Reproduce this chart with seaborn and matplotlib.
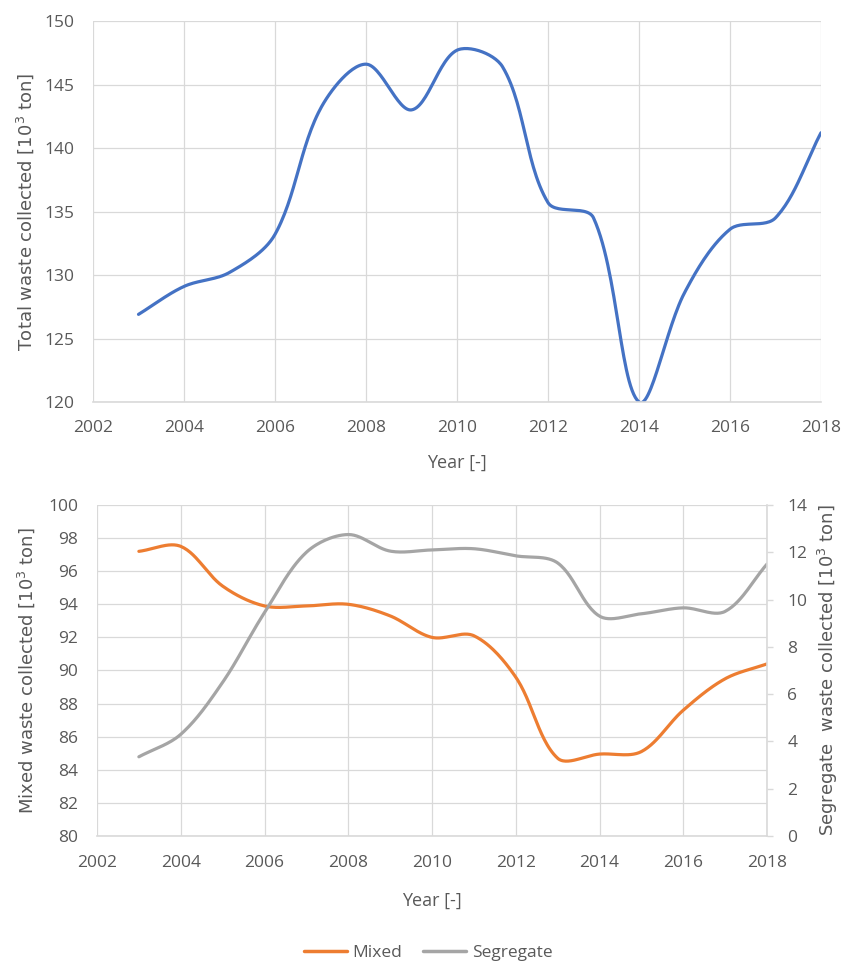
import numpy as np
import pandas as pd
import matplotlib
matplotlib.use("Agg")
import matplotlib.pyplot as plt
import seaborn as sns

YEARS = list(range(2003, 2019))
TOTAL = [126.9, 129.1, 130.2, 133.2, 143.1, 146.6, 143.0, 147.7,
         146.4, 135.7, 134.5, 120.0, 128.6, 133.6, 134.5, 141.2]
MIXED = [97.2, 97.5, 95.1, 93.9, 93.9, 94.0, 93.3, 92.0,
         92.1, 89.6, 84.7, 84.95, 85.1, 87.6, 89.5, 90.4]
SEGREGATE = [3.35, 4.3, 6.5, 9.45, 12.0, 12.75, 12.05, 12.1,
             12.15, 11.85, 11.55, 9.3, 9.4, 9.65, 9.5, 11.5]

BLUE, ORANGE, GREY = "#4472C4", "#ED7D31", "#A5A5A5"
TICK_C, GRID_C = "#595959", "#D9D9D9"
TICK_FONT = "Open Sans"
LABEL_FONT = "DejaVu Sans"


def smooth(ax, x, y, n=30):
    # Excel-like smoothed line, built in screen space with chord-length weighted tangents
    p = ax.transData.transform(np.column_stack([x, y]).astype(float))
    ext = np.vstack([p[0], p, p[-1]])
    t = np.linspace(0, 1, n)[:, None]
    segs = []
    for i in range(len(p) - 1):
        p0, p1, p2, p3 = ext[i], ext[i + 1], ext[i + 2], ext[i + 3]
        d01 = np.linalg.norm(p1 - p0)
        d12 = np.linalg.norm(p2 - p1)
        d23 = np.linalg.norm(p3 - p2)
        w1 = d12 / (d01 + d12) if d01 + d12 > 0 else 0
        w2 = d12 / (d12 + d23) if d12 + d23 > 0 else 0
        c1 = p1 + (p2 - p0) * w1 / 3
        c2 = p2 - (p3 - p1) * w2 / 3
        b = ((1 - t) ** 3) * p1 + 3 * ((1 - t) ** 2) * t * c1 + 3 * (1 - t) * t ** 2 * c2 + t ** 3 * p2
        segs.append(b if i == 0 else b[1:])
    out = ax.transData.inverted().transform(np.vstack(segs))
    return out[:, 0], out[:, 1]


def style_axis(ax, xpad=13):
    ax.set_facecolor("white")
    ax.grid(True, color=GRID_C, linewidth=0.9)
    for s in ["top", "left", "right"]:
        ax.spines[s].set_visible(False)
    ax.spines["bottom"].set_color(GRID_C)
    ax.spines["bottom"].set_linewidth(1.2)
    ax.tick_params(axis="x", length=0, colors=TICK_C, labelsize=12.5, pad=xpad)
    ax.tick_params(axis="y", length=0, colors=TICK_C, labelsize=12.5, pad=13.5)
    for lab in ax.get_xticklabels() + ax.get_yticklabels():
        lab.set_family(TICK_FONT)


sns.set_theme(style="white")
plt.rcParams["font.family"] = [TICK_FONT, "DejaVu Sans"]

fig = plt.figure(figsize=(8.56, 9.63), dpi=100)
W, H = 856, 963
ax1 = fig.add_axes([93 / W, 1 - 402 / H, (821 - 93) / W, (402 - 21) / H])
ax2 = fig.add_axes([97 / W, 1 - 836 / H, (767 - 97) / W, (836 - 505) / H])

# top: total waste
ax1.set_xlim(2002, 2018)
ax1.set_ylim(120, 150)
xs, ys = smooth(ax1, YEARS, TOTAL)
sns.lineplot(x=xs, y=ys, sort=False, estimator=None, color=BLUE, linewidth=2.3, ax=ax1)
ax1.set_xlim(2002, 2018)
ax1.set_ylim(120, 150)
ax1.set_xticks(range(2002, 2019, 2))
ax1.set_yticks(range(120, 151, 5))
style_axis(ax1)
ax1.set_xlabel("Year [-]", fontsize=13, color=TICK_C, labelpad=13)
ax1.set_ylabel("Total waste collected [10$^3$ ton]", fontsize=13, color=TICK_C,
               family=LABEL_FONT, labelpad=6)

# bottom: mixed (left) and segregate (right)
ax2.set_xlim(2002, 2018)
ax2.set_ylim(80, 100)
xm, ym = smooth(ax2, YEARS, MIXED)
sns.lineplot(x=xm, y=ym, sort=False, estimator=None, color=ORANGE, linewidth=2.3, ax=ax2)
ax2.set_xlim(2002, 2018)
ax2.set_ylim(80, 100)
ax2.set_xticks(range(2002, 2019, 2))
ax2.set_yticks(range(80, 101, 2))
style_axis(ax2, xpad=14)
ax2.set_xlabel("Year [-]", fontsize=13, color=TICK_C, labelpad=15)
ax2.set_ylabel("Mixed waste collected [10$^3$ ton]", fontsize=13, color=TICK_C,
               family=LABEL_FONT, labelpad=8)

ax3 = ax2.twinx()
ax3.set_ylim(0, 14)
xg, yg = smooth(ax3, YEARS, SEGREGATE)
sns.lineplot(x=xg, y=yg, sort=False, estimator=None, color=GREY, linewidth=2.3, ax=ax3)
ax3.set_xlim(2002, 2018)
ax3.set_ylim(0, 14)
ax3.set_yticks(range(0, 15, 2))
ax3.grid(False)
for s in ["top", "left", "bottom"]:
    ax3.spines[s].set_visible(False)
ax3.spines["right"].set_color(GRID_C)
ax3.spines["right"].set_linewidth(1.2)
ax3.tick_params(axis="y", length=4.5, width=1.0, color=GRID_C, labelcolor=TICK_C,
                labelsize=12.5, pad=10)
for lab in ax3.get_yticklabels():
    lab.set_family(TICK_FONT)
ax3.set_ylabel("Segregate  waste collected [10$^3$ ton]", fontsize=13, color=TICK_C,
               family=LABEL_FONT, labelpad=6)

handles = [plt.Line2D([], [], color=ORANGE, linewidth=2.5),
           plt.Line2D([], [], color=GREY, linewidth=2.5)]
fig.legend(handles, ["Mixed", "Segregate"], loc="center", bbox_to_anchor=(428 / W, 10 / H),
           ncol=2, frameon=False, fontsize=12.5, labelcolor=TICK_C,
           handlelength=2.5, columnspacing=1.2, handletextpad=0.3)

fig.savefig("out.png", dpi=100, facecolor="white")
